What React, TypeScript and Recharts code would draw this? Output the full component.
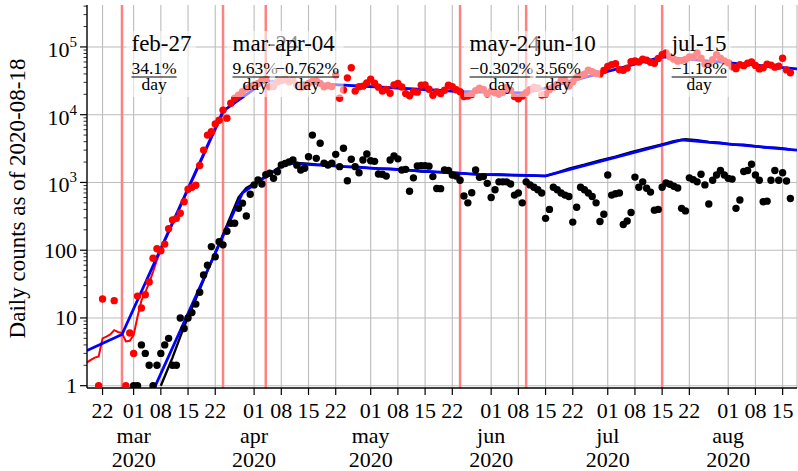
import {
  CartesianGrid,
  ComposedChart,
  Line,
  ReferenceLine,
  Scatter,
  XAxis,
  YAxis,
} from "recharts";

const SERIF = "'Liberation Serif', 'DejaVu Serif', serif";

// day index: 0 = 2020-03-01
const X_MIN = -12;
const X_MAX = 170.7;
const Y_MIN = 0.925;
const Y_MAX = 416000;

// daily new cases, by month (first value = first listed day)
const casesFeb18 = [0, 0, 0, 1, 19, 0, 0, 18, 0, 0, 1, 6];
const casesMar = [3, 21, 14, 22, 34, 76, 105, 98, 123, 208, 279, 295, 351, 520, 795, 850, 910, 1780, 3000, 5000, 5600, 7300, 8300, 11700, 8900, 14800, 17500, 19400, 21800, 24500, 26000];
const casesApr = [27500, 29000, 32100, 33000, 25800, 26000, 30500, 32000, 33500, 30700, 32600, 27500, 25000, 26500, 29000, 31000, 31500, 29000, 25900, 27000, 26000, 38600, 17500, 23100, 35000, 49400, 22300, 25900, 26400, 29500];
const casesMay = [33500, 29200, 25500, 22400, 23600, 20700, 27400, 29000, 25600, 20500, 19000, 21800, 21500, 27200, 27500, 23800, 19400, 21700, 20600, 23000, 27200, 25900, 23400, 21800, 18600, 18900, 19900, 22700, 24700, 23600, 20200];
const casesJun = [22200, 21000, 20300, 21400, 25300, 23000, 18500, 17200, 18900, 21200, 23300, 25500, 24800, 19500, 20100, 23500, 25500, 28000, 31800, 32400, 26500, 30600, 35300, 37900, 39700, 45300, 43200, 40600, 39800, 44900];
const casesJul = [51600, 54600, 56400, 46000, 45400, 48700, 60500, 61900, 59900, 66200, 63600, 59300, 57400, 67400, 76600, 81200, 71400, 66000, 61700, 62900, 65200, 71000, 70900, 81200, 68000, 56000, 56100, 65100, 76600, 68400, 62000];
const casesAug = [58400, 50800, 47800, 54600, 53000, 57500, 60200, 53400, 47400, 49200, 55500, 54000, 50300, 52000, 68000, 45800, 41500];

// daily new deaths, by month
const deathsFeb18 = [0, 0, 0, 0, 0, 0, 0, 0, 0, 0, 0, 0];
const deathsMar = [1, 1, 4, 3, 2, 1, 2, 3, 4, 5, 2, 2, 10, 7, 10, 12, 16, 24, 43, 60, 113, 80, 133, 120, 190, 250, 250, 415, 495, 320, 670];
const deathsApr = [920, 1090, 950, 1300, 1365, 1150, 1440, 1810, 1900, 2000, 2140, 1800, 1530, 1620, 2400, 5000, 2270, 3790, 1920, 1810, 1920, 2600, 1710, 3190, 1060, 2200, 1710, 1390, 2140, 2630];
const deathsMay = [2090, 2050, 1330, 1320, 1240, 2140, 2470, 2230, 1530, 1560, 740, 1170, 1750, 1770, 1770, 1740, 1220, 815, 810, 1530, 1500, 1290, 1240, 1080, 630, 500, 705, 1530, 1190, 1220, 970];
const deathsJun = [600, 780, 1020, 1020, 1020, 950, 650, 700, 500, 1020, 920, 850, 780, 700, 295, 400, 850, 780, 700, 650, 620, 260, 430, 850, 780, 700, 620, 500, 265, 340];
const deathsJul = [1290, 650, 680, 700, 240, 270, 360, 1200, 850, 1020, 820, 720, 390, 400, 850, 980, 940, 880, 830, 415, 380, 1170, 1100, 1020, 1320, 920, 480, 1080, 1290, 1500, 1290];
const deathsAug = [1150, 1120, 415, 550, 1450, 1500, 1860, 1290, 1080, 520, 530, 1080, 1500, 1080, 1390, 1050, 580];

// smoothed cases (red line), early part only
const casesAvgDays = [-12, -11, -10, -9, -8, -7, -6, -5, -4, -3, -2, -1, 0, 1, 2, 3, 4, 5, 6, 7, 8, 9, 10, 11, 12, 13, 14, 15, 16, 17, 18, 19, 20, 21, 22, 23, 24];
const casesAvgVals = [2.2, 2.4, 2.6, 2.7, 5.0, 5.3, 5.7, 6.6, 6.2, 6.0, 4.5, 4.6, 5.6, 10.4, 18, 24, 33, 48, 72, 100, 135, 180, 240, 320, 430, 580, 770, 1030, 1380, 1850, 2480, 3300, 4450, 5900, 7900, 10500, 12500];

// smoothed deaths (black line)
const deathsAvgDays = [7, 10, 13, 16, 19, 22, 25, 27, 29, 31, 33, 35, 37, 39, 41, 44, 47, 50, 54, 58, 62, 66, 70, 74, 78, 82, 86, 90, 94, 98, 102, 106, 109, 112, 116, 120, 124, 128, 132, 136, 139, 142, 145, 148, 151, 154, 157, 160, 163, 166, 169];
const deathsAvgVals = [1.0, 2.6, 7.5, 19, 50, 125, 320, 600, 830, 960, 1130, 1340, 1580, 1900, 1960, 1900, 1840, 1800, 1700, 1690, 1600, 1590, 1540, 1450, 1420, 1400, 1340, 1300, 1310, 1270, 1265, 1240, 1400, 1600, 1830, 2120, 2400, 2800, 3200, 3650, 4050, 4330, 4200, 3950, 3850, 3620, 3600, 3420, 3280, 3220, 3070];

// piecewise exponential fits (blue), knot values
const casesFitDays = [-12, -3, 23, 34, 84, 101, 136, 170.7];
const casesFitVals = [3.3, 5.7, 11300, 31500, 22000, 20900, 71500, 47500];
const deathsFitDays = [5, 28, 39, 89, 106, 141, 170.7];
const deathsFitVals = [0.84, 700, 1930, 1320, 1250, 4250, 3000];

// change points
const changeDays = [-3, 23, 34, 84, 101, 136];
const changeNames = ["feb-27", "mar-24", "apr-04", "may-24", "jun-10", "jul-15"];
const changeRates = ["34.1%", "9.63%", "\u22120.762%", "\u22120.302%", "3.56%", "\u22121.18%"];

// x ticks
const tickDays = [-8, 0, 7, 14, 21, 31, 38, 45, 52, 61, 68, 75, 82, 92, 99, 106, 113, 122, 129, 136, 143, 153, 160, 167];
const tickLabels = ["22", "01", "08", "15", "22", "01", "08", "15", "22", "01", "08", "15", "22", "01", "08", "15", "22", "01", "08", "15", "22", "01", "08", "15"];
const monthDays = [0, 31, 61, 92, 122, 153];
const monthNames = ["mar", "apr", "may", "jun", "jul", "aug"];

const decades = [1, 10, 100, 1000, 10000, 100000];
const yTicks: number[] = [];
decades.forEach((dec) => {
  for (let k = 1; k <= 9; k++) {
    if (dec * k <= Y_MAX) yTicks.push(dec * k);
  }
});

function toPoints(vals: number[], firstDay: number) {
  return vals
    .map((v, i) => ({ d: firstDay + i, v }))
    .filter((p) => p.v > 0);
}

function zipPoints(days: number[], vals: number[]) {
  return days.map((d, i) => ({ d, v: vals[i] }));
}

const casesPts = [
  ...toPoints(casesFeb18, -12),
  ...toPoints(casesMar, 0),
  ...toPoints(casesApr, 31),
  ...toPoints(casesMay, 61),
  ...toPoints(casesJun, 92),
  ...toPoints(casesJul, 122),
  ...toPoints(casesAug, 153),
];
const deathsPts = [
  ...toPoints(deathsFeb18, -12),
  ...toPoints(deathsMar, 0),
  ...toPoints(deathsApr, 31),
  ...toPoints(deathsMay, 61),
  ...toPoints(deathsJun, 92),
  ...toPoints(deathsJul, 122),
  ...toPoints(deathsAug, 153),
];

let measureCtx: CanvasRenderingContext2D | null = null;
function textWidth(s: string, size: number) {
  if (!measureCtx) measureCtx = document.createElement("canvas").getContext("2d");
  if (!measureCtx) return s.length * size * 0.5;
  measureCtx.font = `${size}px 'Liberation Serif'`;
  return measureCtx.measureText(s).width;
}

function ChangeLabel({ viewBox, name, rate }: any) {
  const vx = viewBox.x;
  const top = viewBox.y;
  const left = vx + 9.5;
  const nameW = textWidth(name, 23);
  const rateW = textWidth(rate, 17.5);
  const boxW = Math.max(nameW, rateW) + 10;
  return (
    <g fontFamily={SERIF} fill="#000">
      <rect x={vx + 4} y={top + 26} width={boxW} height={66} fill="#fff" fillOpacity={0.55} />
      <text x={left} y={top + 46} fontSize={23}>{name}</text>
      <text x={left} y={top + 68.5} fontSize={17.5}>{rate}</text>
      <line x1={left} x2={left + rateW} y1={top + 72} y2={top + 72} stroke="#000" strokeWidth={1} />
      <text x={left + rateW / 2} y={top + 85} fontSize={17.5} textAnchor="middle">day</text>
    </g>
  );
}

function XTick({ x, y, payload }: any) {
  const d = payload.value;
  const i = tickDays.indexOf(d);
  const m = monthDays.indexOf(d);
  return (
    <g fontFamily={SERIF} fontSize={22} fill="#000">
      <line x1={x} x2={x} y1={y} y2={y + 7} stroke="#000" strokeWidth={1.2} />
      <text x={x} y={y + 30} textAnchor="middle">{tickLabels[i]}</text>
      {m >= 0 && (
        <>
          <text x={x} y={y + 55} textAnchor="middle">{monthNames[m]}</text>
          <text x={x} y={y + 79} textAnchor="middle">2020</text>
        </>
      )}
    </g>
  );
}

function YTick({ x, y, payload }: any) {
  const v = payload.value;
  const di = decades.indexOf(v);
  if (di < 0) {
    return <line x1={x - 3.5} x2={x} y1={y} y2={y} stroke="#000" strokeWidth={0.8} />;
  }
  return (
    <g fontFamily={SERIF} fill="#000">
      <line x1={x - 7} x2={x} y1={y} y2={y} stroke="#000" strokeWidth={1.2} />
      {di < 3 ? (
        <text x={x - 10} y={y + 7.5} fontSize={22} textAnchor="end">{String(v)}</text>
      ) : (
        <text x={x - 10} y={y + 10} fontSize={22} textAnchor="end">
          10<tspan dy={-10} fontSize={15}>{di}</tspan>
        </text>
      )}
    </g>
  );
}

function YLabel({ viewBox }: any) {
  const cx = viewBox.x + 25;
  const cy = viewBox.y + viewBox.height / 2 + 2;
  return (
    <text x={cx} y={cy} transform={`rotate(-90 ${cx} ${cy})`} textAnchor="middle" fontFamily={SERIF} fontSize={23} fill="#000">
      Daily counts as of 2020-08-18
    </text>
  );
}

const dot = (color: string) => (p: any) => <circle cx={p.cx} cy={p.cy} r={3.7} fill={color} />;

const CHART_W = 798;
const CHART_H = 471;
const MARGIN = { top: 5, right: 1, bottom: 0, left: 0 };

// overlay with the change-point labels, so their boxes sit above the data
function LabelLayer() {
  return (
    <ComposedChart width={CHART_W} height={CHART_H} margin={MARGIN}>
      <XAxis dataKey="d" type="number" domain={[X_MIN, X_MAX]} allowDataOverflow height={83} tick={false} tickLine={false} axisLine={false} />
      <YAxis dataKey="v" type="number" scale="log" domain={[Y_MIN, Y_MAX]} allowDataOverflow width={87} tick={false} tickLine={false} axisLine={false} />
      {changeDays.map((d, i) => (
        <ReferenceLine
          key={`l${d}`}
          x={d}
          stroke="none"
          label={(props: any) => <ChangeLabel {...props} name={changeNames[i]} rate={changeRates[i]} />}
        />
      ))}
    </ComposedChart>
  );
}

export default function App() {
  return (
    <div style={{ position: "absolute", left: 0, top: 0, width: CHART_W, height: CHART_H, background: "#fff" }}>
      <ComposedChart width={CHART_W} height={CHART_H} margin={MARGIN}>
        <CartesianGrid stroke="#bcbcbc" strokeWidth={1.1} horizontalValues={decades} />
        <XAxis
          dataKey="d"
          type="number"
          domain={[X_MIN, X_MAX]}
          allowDataOverflow
          ticks={tickDays}
          interval={0}
          tick={<XTick />}
          tickLine={false}
          tickSize={0}
          tickMargin={0}
          height={83}
          axisLine={{ stroke: "#000", strokeWidth: 1.3 }}
        />
        <XAxis xAxisId="top" orientation="top" type="number" domain={[X_MIN, X_MAX]} height={0} tick={false} tickLine={false} axisLine={{ stroke: "#000", strokeWidth: 1.3 }} />
        <YAxis
          dataKey="v"
          type="number"
          scale="log"
          domain={[Y_MIN, Y_MAX]}
          allowDataOverflow
          ticks={yTicks}
          interval={0}
          tick={<YTick />}
          tickLine={false}
          tickSize={0}
          tickMargin={0}
          width={87}
          axisLine={{ stroke: "#000", strokeWidth: 1.3 }}
          label={<YLabel />}
        />
        {changeDays.map((d) => (
          <ReferenceLine key={`v${d}`} x={d} stroke="#ff8282" strokeWidth={2.5} />
        ))}
        <Scatter data={casesPts} dataKey="v" fill="#ff0000" shape={dot("#ff0000")} isAnimationActive={false} />
        <Scatter data={deathsPts} dataKey="v" fill="#000" shape={dot("#000")} isAnimationActive={false} />
        <Line data={zipPoints(casesAvgDays, casesAvgVals)} dataKey="v" stroke="#ff0000" strokeWidth={2} dot={false} isAnimationActive={false} />
        <Line data={zipPoints(deathsAvgDays, deathsAvgVals)} dataKey="v" stroke="#000" strokeWidth={2.4} dot={false} isAnimationActive={false} />
        <Line data={zipPoints(casesFitDays, casesFitVals)} dataKey="v" stroke="#0000ff" strokeWidth={2.8} dot={false} isAnimationActive={false} />
        <Line data={zipPoints(deathsFitDays, deathsFitVals)} dataKey="v" stroke="#0000ff" strokeWidth={2.8} dot={false} isAnimationActive={false} />
      </ComposedChart>
      <div style={{ position: "absolute", left: 0, top: 0 }}>
        <LabelLayer />
      </div>
    </div>
  );
}
